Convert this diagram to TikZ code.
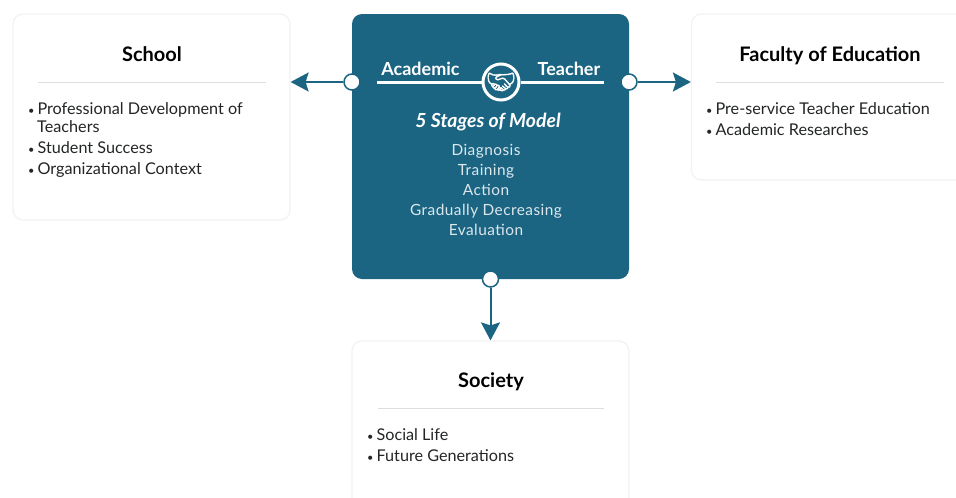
\documentclass[tikz,border=0pt]{standalone}
\usepackage{fontspec}
\setmainfont{Lato}
\newfontfamily\iconfont[FakeBold=1.5]{Noto Emoji}
\usetikzlibrary{arrows.meta,positioning}
\definecolor{modelblue}{HTML}{1B6583}
\definecolor{listgrey}{HTML}{DCE7EC}
\definecolor{textblack}{HTML}{232526}
\newcommand{\itemdot}{{\fontsize{11}{9}\selectfont\textbullet}\hspace{3pt}}
\begin{document}
\begin{tikzpicture}[x=1pt,y=-1pt,>={Stealth[length=18pt,width=19pt,inset=3pt]},
      cardbox/.style={draw=black!5,line width=1.2pt,fill=white,rounded corners=10pt,inner sep=0pt},
      modelbox/.style={fill=modelblue,rounded corners=10pt,inner sep=0pt},
      cardtitle/.style={font=\fontsize{20}{22}\selectfont\bfseries,text=black,inner sep=0pt},
      cardrule/.style={draw=black!13,line width=1pt},
      cardlist/.style={font=\fontsize{16.2}{18}\selectfont,text=textblack,align=left,anchor=north west,inner sep=0pt},
      jointdot/.style={circle,draw=modelblue,fill=white,line width=1.5pt,minimum size=16pt,inner sep=0pt},
      joint/.style={draw=modelblue,line width=2pt},
      headtext/.style={font=\fontsize{18}{20}\selectfont\bfseries,text=white,inner sep=0pt},
      stagetext/.style={font=\fontsize{15.4}{20}\selectfont\addfontfeature{LetterSpace=3},text=listgrey,align=center,inner sep=0pt}]
  \useasboundingbox (0,0) rectangle (956,498);
  \clip (0,0) rectangle (956,498);
  % cards
  \node[cardbox,minimum width=277pt,minimum height=206pt] (school) at (151.5,117) {};
  \node[cardbox,minimum width=277pt,minimum height=166pt] (faculty) at (830,97) {};
  \node[cardbox,minimum width=277pt,minimum height=180pt] (society) at (490.5,431) {};
  \node[modelbox,minimum width=277pt,minimum height=265pt] (model) at (490.5,146.5) {};
  % card contents
  \node[cardtitle] (schoolhead) at (152,54.5) {School};
  \node[cardtitle] (facultyhead) at (830,56) {Faculty of Education};
  \node[cardtitle] (societyhead) at (491,382) {Society};
  \coordinate (schoolruleL) at (38,82);
  \coordinate (schoolruleR) at (266,82);
  \coordinate (facultyruleL) at (716,82);
  \coordinate (facultyruleR) at (944,82);
  \coordinate (societyruleL) at (378,408);
  \coordinate (societyruleR) at (604,408);
  \draw[cardrule] (schoolruleL) -- (schoolruleR);
  \draw[cardrule] (facultyruleL) -- (facultyruleR);
  \draw[cardrule] (societyruleL) -- (societyruleR);
  \node[cardlist] (schoollist) at (28,102) {\itemdot Professional Development of\\[0pt]\hspace{9pt}Teachers\\[3pt]
    \itemdot Student Success\\[3pt]\itemdot Organizational Context};
  \node[cardlist] (facultylist) at (706,102) {\itemdot Pre-service Teacher Education\\[3pt]\itemdot Academic Researches};
  \node[cardlist] (societylist) at (367,428) {\itemdot Social Life\\[3pt]\itemdot Future Generations};
  % model box
  \coordinate (headL) at (377,82);
  \coordinate (headR) at (604,82);
  \node[circle,draw=white,line width=3pt,minimum size=36pt,inner sep=0pt] (shake) at (501,82) {};
  \node[text=white,font=\iconfont\fontsize{24}{24}\selectfont,inner sep=0pt] (shakeicon) at (501,82) {\symbol{"1F91D}};
  \draw[white,line width=3pt] (headL) -- (shake) (shake) -- (headR);
  \node[headtext] (academic) at (420.5,69) {Academic};
  \node[headtext] (teacher) at (569,68.5) {Teacher};
  \node[font=\fontsize{19.4}{20}\selectfont\bfseries\itshape,text=white,inner sep=0pt] (stages) at (488,122) {5 Stages of Model};
  \node[stagetext,anchor=north] (stagelist) at (486,144) {Diagnosis\\Training\\Action\\Gradually Decreasing\\Evaluation};
  % connectors
  \node[jointdot] (dotschool) at (352,82) {};
  \node[jointdot] (dotfaculty) at (629,82) {};
  \node[jointdot] (dotsociety) at (490.5,279) {};
  \draw[joint,->] (dotschool) -- (dotschool -| school.east);
  \draw[joint,->] (dotfaculty) -- (dotfaculty -| faculty.west);
  \draw[joint,->] (dotsociety) -- (society.north);
\end{tikzpicture}
\end{document}
